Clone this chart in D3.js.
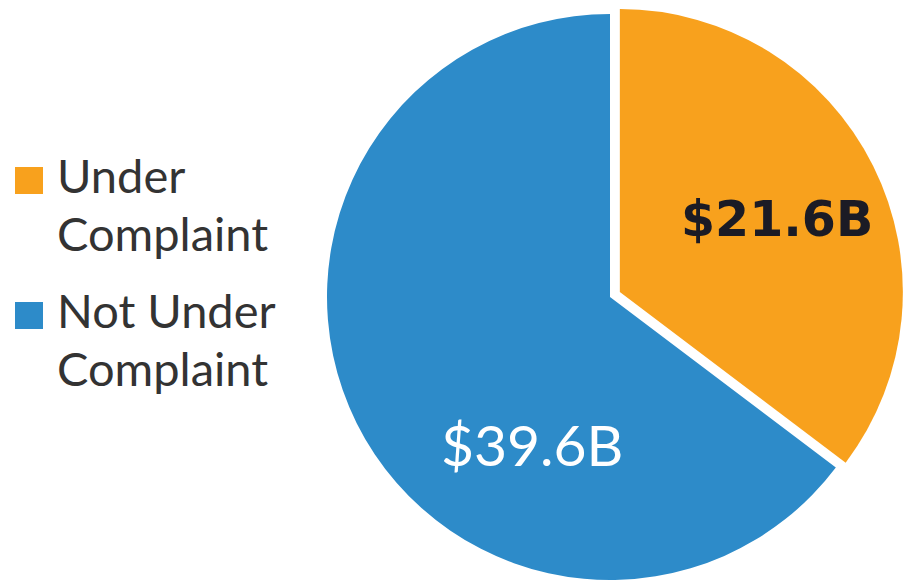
<!DOCTYPE html>
<html><head><meta charset="utf-8">
<script src="https://cdn.jsdelivr.net/npm/d3@7"></script>
<style>html,body{margin:0;padding:0;background:#fff;}svg{display:block;}</style>
</head><body>
<svg id="chart" width="904" height="582"></svg>
<script>
const categories = ["Under Complaint", "Not Under Complaint"];
const legendLines = [["Under", "Complaint"], ["Not Under", "Complaint"]];
const values = [21.6, 39.6];
const valueLabels = ["$21.6B", "$39.6B"];
const colors = ["#F8A11D", "#2D8BC9"];

const svg = d3.select("#chart");
const cx = 610, cy = 297, r = 283;
const pie = d3.pie().sort(null).value(d => d)(values);
const arc = d3.arc().innerRadius(0).outerRadius(r);
const explode = [11, 0];

const g = svg.append("g").attr("transform", `translate(${cx},${cy})`);
const slices = g.selectAll("g.slice").data(pie).enter().append("g")
  .attr("transform", (d, i) => {
    const a = (d.startAngle + d.endAngle) / 2;
    return `translate(${Math.sin(a) * explode[i]},${-Math.cos(a) * explode[i]})`;
  });
slices.append("path").attr("d", arc).attr("fill", (d, i) => colors[i]);

// labels
const labelStyle = [
  {font: "bold 49px 'DejaVu Sans'", fill: "#1b1b25", rad: 174, da: 0.02, dy: 18},
  {font: "57px Lato", fill: "#ffffff", rad: 169, da: -0.63, dy: 19}
];
slices.append("text")
  .attr("x", (d, i) => Math.sin((d.startAngle + d.endAngle) / 2 + labelStyle[i].da) * labelStyle[i].rad)
  .attr("y", (d, i) => -Math.cos((d.startAngle + d.endAngle) / 2 + labelStyle[i].da) * labelStyle[i].rad + labelStyle[i].dy)
  .attr("text-anchor", "middle")
  .style("font", (d, i) => labelStyle[i].font)
  .attr("fill", (d, i) => labelStyle[i].fill)
  .text((d, i) => valueLabels[i]);

// legend
const legendY = [193, 328];
const lg = svg.append("g");
categories.forEach((c, i) => {
  lg.append("rect").attr("x", 15).attr("y", legendY[i] - 26).attr("width", 28).attr("height", 27)
    .attr("fill", colors[i]);
  legendLines[i].forEach((line, j) => {
    lg.append("text").attr("x", 57).attr("y", legendY[i] + j * 58)
      .style("font", "47px Lato").attr("fill", "#333333").text(line);
  });
});
</script>
</body></html>
